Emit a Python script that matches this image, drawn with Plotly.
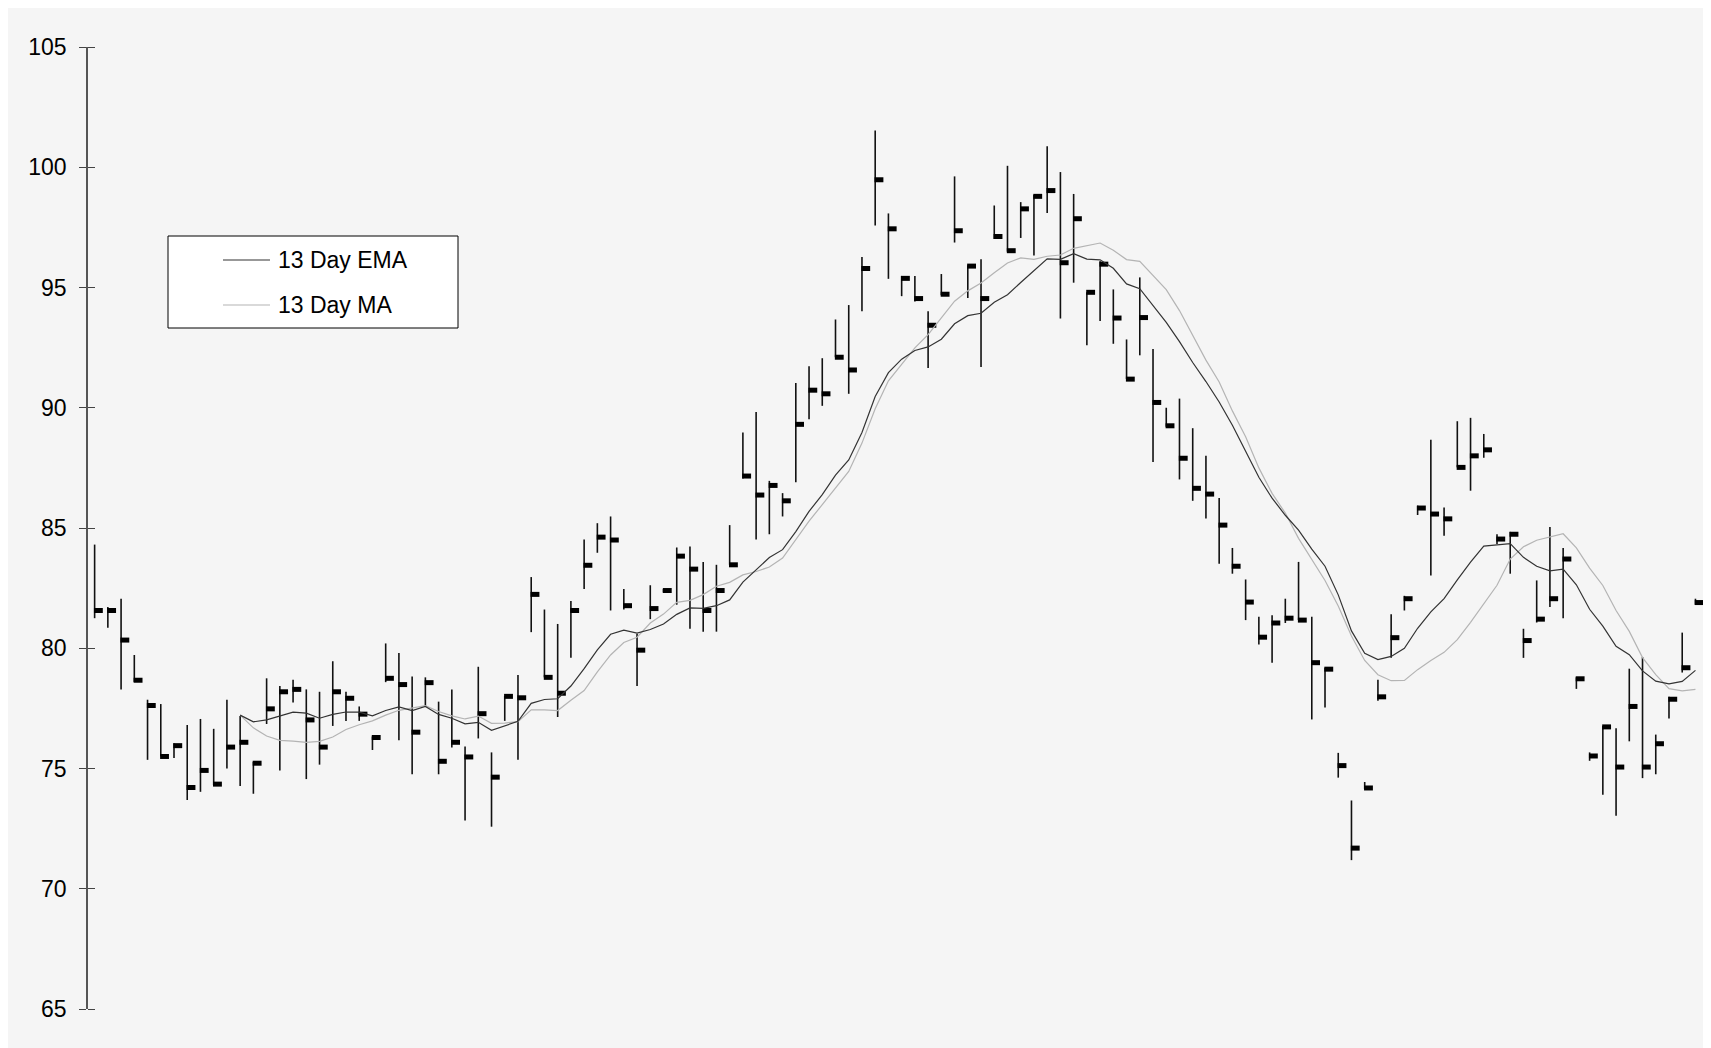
import plotly.graph_objects as go

# ---------------- data ----------------
days = list(range(1, 123))

high = [84.31, 81.71, 82.06, 79.72, 77.86, 77.68, 76.05, 76.81, 77.06, 76.65,
        77.86, 77.18, 75.28, 78.75, 78.43, 78.69, 78.29, 78.19, 79.46, 78.19,
        77.58, 76.33, 80.20, 79.80, 78.83, 78.79, 77.78, 78.29, 75.91, 79.23,
        75.67, 78.02, 78.89, 82.96, 81.61, 81.01, 81.96, 84.52, 85.20, 85.48,
        82.46, 80.60, 82.62, 82.46, 84.19, 84.23, 83.59, 83.47, 85.12, 88.97,
        89.82, 86.96, 86.45, 91.03, 91.73, 92.06, 93.67, 94.27, 96.27, 101.53,
        98.08, 95.48, 95.48, 94.01, 95.56, 99.62, 95.93, 96.17, 98.41, 100.06,
        98.55, 98.85, 100.87, 99.80, 98.89, 94.80, 96.09, 94.92, 92.84, 95.42,
        92.44, 90.00, 90.38, 89.15, 88.00, 86.25, 84.17, 82.86, 81.31, 81.37,
        82.06, 83.59, 81.31, 79.19, 75.65, 73.67, 74.44, 78.69, 81.41, 82.18,
        85.93, 88.67, 85.85, 89.44, 89.58, 88.91, 84.74, 84.84, 80.81, 82.82,
        85.04, 84.17, 78.79, 75.67, 76.77, 76.67, 79.15, 79.64, 76.41, 77.98,
        80.65, 82.06]

low = [81.25, 80.85, 78.29, 78.60, 75.36, 75.50, 75.44, 73.69, 74.03, 74.31,
       75.00, 74.27, 73.95, 76.85, 74.92, 77.74, 74.56, 75.16, 76.77, 76.98,
       76.98, 75.77, 78.59, 76.17, 74.76, 77.58, 74.76, 75.87, 72.84, 76.25,
       72.58, 76.98, 75.36, 80.67, 78.79, 77.14, 79.60, 82.46, 83.97, 81.57,
       81.61, 78.43, 81.21, 82.32, 81.81, 80.81, 80.69, 80.69, 83.47, 87.06,
       84.52, 84.74, 85.48, 86.90, 89.52, 90.08, 92.10, 90.58, 94.01, 97.58,
       95.36, 94.64, 94.42, 91.65, 94.68, 96.87, 94.56, 91.69, 97.02, 96.49,
       97.06, 96.33, 98.10, 93.71, 95.20, 92.60, 93.61, 92.66, 91.19, 92.18,
       87.74, 89.21, 87.02, 86.13, 85.40, 83.51, 83.10, 81.17, 80.16, 79.40,
       81.05, 81.17, 77.04, 77.54, 74.62, 71.19, 74.15, 77.82, 79.60, 81.57,
       85.54, 83.02, 84.68, 87.52, 86.55, 87.92, 84.33, 83.10, 79.60, 81.07,
       81.71, 81.25, 78.31, 75.32, 73.91, 73.04, 76.13, 74.60, 74.76, 77.08,
       78.99, 81.81]

close = [81.57, 81.57, 80.34, 78.67, 77.62, 75.50, 75.95, 74.21, 74.92, 74.35,
         75.89, 76.09, 75.22, 77.48, 78.19, 78.29, 77.02, 75.89, 78.19, 77.92,
         77.26, 76.29, 78.75, 78.49, 76.51, 78.57, 75.30, 76.09, 75.48, 77.28,
         74.64, 78.00, 77.94, 82.24, 78.79, 78.13, 81.57, 83.45, 84.62, 84.50,
         81.77, 79.92, 81.65, 82.40, 83.83, 83.29, 81.57, 82.40, 83.47, 87.16,
         86.37, 86.77, 86.13, 89.31, 90.73, 90.58, 92.10, 91.57, 95.79, 99.48,
         97.44, 95.38, 94.54, 93.43, 94.72, 97.36, 95.89, 94.54, 97.12, 96.53,
         98.27, 98.79, 99.03, 96.03, 97.86, 94.80, 95.97, 93.73, 91.19, 93.75,
         90.22, 89.25, 87.90, 86.65, 86.41, 85.12, 83.41, 81.92, 80.46, 81.05,
         81.25, 81.17, 79.40, 79.13, 75.12, 71.69, 74.19, 77.98, 80.44, 82.06,
         85.83, 85.58, 85.38, 87.52, 88.00, 88.25, 84.54, 84.74, 80.32, 81.21,
         82.06, 83.71, 78.73, 75.52, 76.73, 75.06, 77.58, 75.06, 76.03, 77.88,
         79.19, 81.90]

# moving-average lines start at day 12
avg_days = list(range(12, 123))

ema13 = [77.22, 76.94, 77.02, 77.18, 77.34, 77.30, 77.09, 77.25, 77.35, 77.34,
         77.19, 77.41, 77.56, 77.41, 77.58, 77.25, 77.09, 76.86, 76.92, 76.59,
         76.79, 76.96, 77.71, 77.87, 77.90, 78.43, 79.15, 79.93, 80.58, 80.75,
         80.63, 80.78, 81.01, 81.41, 81.68, 81.66, 81.77, 82.01, 82.75, 83.27,
         83.77, 84.10, 84.85, 85.69, 86.39, 87.20, 87.83, 88.97, 90.47, 91.46,
         92.02, 92.38, 92.53, 92.85, 93.49, 93.83, 93.93, 94.39, 94.70, 95.21,
         95.72, 96.19, 96.17, 96.41, 96.18, 96.15, 95.80, 95.15, 94.95, 94.27,
         93.55, 92.75, 91.88, 91.09, 90.24, 89.27, 88.22, 87.11, 86.24, 85.53,
         84.91, 84.12, 83.41, 82.22, 80.72, 79.79, 79.53, 79.66, 80.00, 80.83,
         81.51, 82.06, 82.84, 83.58, 84.25, 84.29, 84.35, 83.78, 83.41, 83.22,
         83.29, 82.64, 81.62, 80.92, 80.08, 79.73, 79.06, 78.63, 78.52, 78.62,
         79.08]

ma13 = [77.22, 76.69, 76.35, 76.17, 76.14, 76.09, 76.13, 76.31, 76.62, 76.82,
        76.98, 77.22, 77.42, 77.52, 77.61, 77.37, 77.19, 77.06, 77.18, 76.88,
        76.89, 76.95, 77.44, 77.44, 77.41, 77.84, 78.24, 79.02, 79.72, 80.24,
        80.46, 81.05, 81.42, 81.91, 81.99, 82.23, 82.58, 82.74, 83.05, 83.19,
        83.38, 83.75, 84.53, 85.29, 85.97, 86.66, 87.35, 88.53, 89.96, 91.12,
        91.80, 92.49, 93.04, 93.76, 94.43, 94.86, 95.19, 95.61, 96.02, 96.23,
        96.17, 96.30, 96.35, 96.63, 96.75, 96.85, 96.55, 96.16, 96.09, 95.51,
        94.91, 94.04, 93.03, 91.98, 91.07, 89.87, 88.79, 87.50, 86.44, 85.62,
        84.57, 83.67, 82.82, 81.76, 80.51, 79.49, 78.90, 78.65, 78.66, 79.11,
        79.49, 79.83, 80.36, 81.08, 81.84, 82.62, 83.71, 84.22, 84.49, 84.62,
        84.76, 84.17, 83.33, 82.61, 81.57, 80.70, 79.61, 78.90, 78.32, 78.23,
        78.29]

y_ticks = [65, 70, 75, 80, 85, 90, 95, 100, 105]
series_names = ["13 Day EMA", "13 Day MA"]

# ---------------- layout geometry (pixels) ----------------
W, H = 1711, 1048
ML, MR, MT, MB = 80, 0, 39, 47
PW, PH = W - ML - MR, H - MT - MB
FONT = "Liberation Sans, Arial, Helvetica, sans-serif"


def px(x):  # svg pixel -> paper x
    return (x - ML) / PW


def py(y):  # svg pixel -> paper y
    return (H - MB - y) / PH


# ---------------- traces ----------------
stick_x, stick_y = [], []
for d, h, l in zip(days, high, low):
    stick_x += [d, d, None]
    stick_y += [l, h, None]

tick_x, tick_y = [], []
for d, c in zip(days, close):
    tick_x += [d - 0.05, d + 0.62, None]
    tick_y += [c, c, None]

fig = go.Figure()
fig.add_trace(go.Scatter(x=stick_x, y=stick_y, mode="lines",
                         line=dict(color="#111111", width=1.6),
                         hoverinfo="skip", showlegend=False))
fig.add_trace(go.Scatter(x=tick_x, y=tick_y, mode="lines",
                         line=dict(color="#000000", width=5),
                         hoverinfo="skip", showlegend=False))
fig.add_trace(go.Scatter(x=avg_days, y=ma13, mode="lines", name=series_names[1],
                         line=dict(color="#b4b4b4", width=1.2), showlegend=False))
fig.add_trace(go.Scatter(x=avg_days, y=ema13, mode="lines", name=series_names[0],
                         line=dict(color="#333333", width=1.2), showlegend=False))

# ---------------- manual legend box ----------------
shapes = [
    dict(type="rect", xref="paper", yref="paper",
         x0=px(160), x1=px(450), y0=py(228), y1=py(320),
         line=dict(color="#000000", width=1), fillcolor="#ffffff", layer="above"),
    dict(type="line", xref="paper", yref="paper",
         x0=px(215), x1=px(262), y0=py(252), y1=py(252),
         line=dict(color="#333333", width=1.2)),
    dict(type="line", xref="paper", yref="paper",
         x0=px(215), x1=px(262), y0=py(297), y1=py(297),
         line=dict(color="#b4b4b4", width=1.2)),
]
annotations = [
    dict(text=series_names[0], xref="paper", yref="paper", x=px(268), y=py(252),
         xanchor="left", yanchor="middle", showarrow=False,
         font=dict(family=FONT, size=23, color="#000000")),
    dict(text=series_names[1], xref="paper", yref="paper", x=px(268), y=py(297),
         xanchor="left", yanchor="middle", showarrow=False,
         font=dict(family=FONT, size=23, color="#000000")),
]

fig.update_layout(
    width=W, height=H,
    margin=dict(l=ML, r=MR, t=MT, b=MB, pad=0),
    paper_bgcolor="#f5f5f5", plot_bgcolor="#f5f5f5",
    font=dict(family=FONT, size=23, color="#000000"),
    showlegend=False,
    shapes=shapes, annotations=annotations,
    xaxis=dict(visible=False, range=[0.5, 123.78], fixedrange=True),
    yaxis=dict(range=[65, 105], tickmode="array", tickvals=y_ticks,
               ticktext=[str(v) for v in y_ticks],
               showgrid=False, zeroline=False,
               showline=True, linecolor="#555555", linewidth=1.5,
               ticks="outside", ticklen=7, tickwidth=1.2, tickcolor="#444444",
               ticklabelstandoff=8,
               minor=dict(tickmode="array", tickvals=y_ticks, ticks="inside",
                          ticklen=7, tickwidth=1.2, tickcolor="#444444",
                          showgrid=False),
               tickfont=dict(family=FONT, size=23, color="#000000"),
               fixedrange=True),
)

fig.write_html("out.html")
